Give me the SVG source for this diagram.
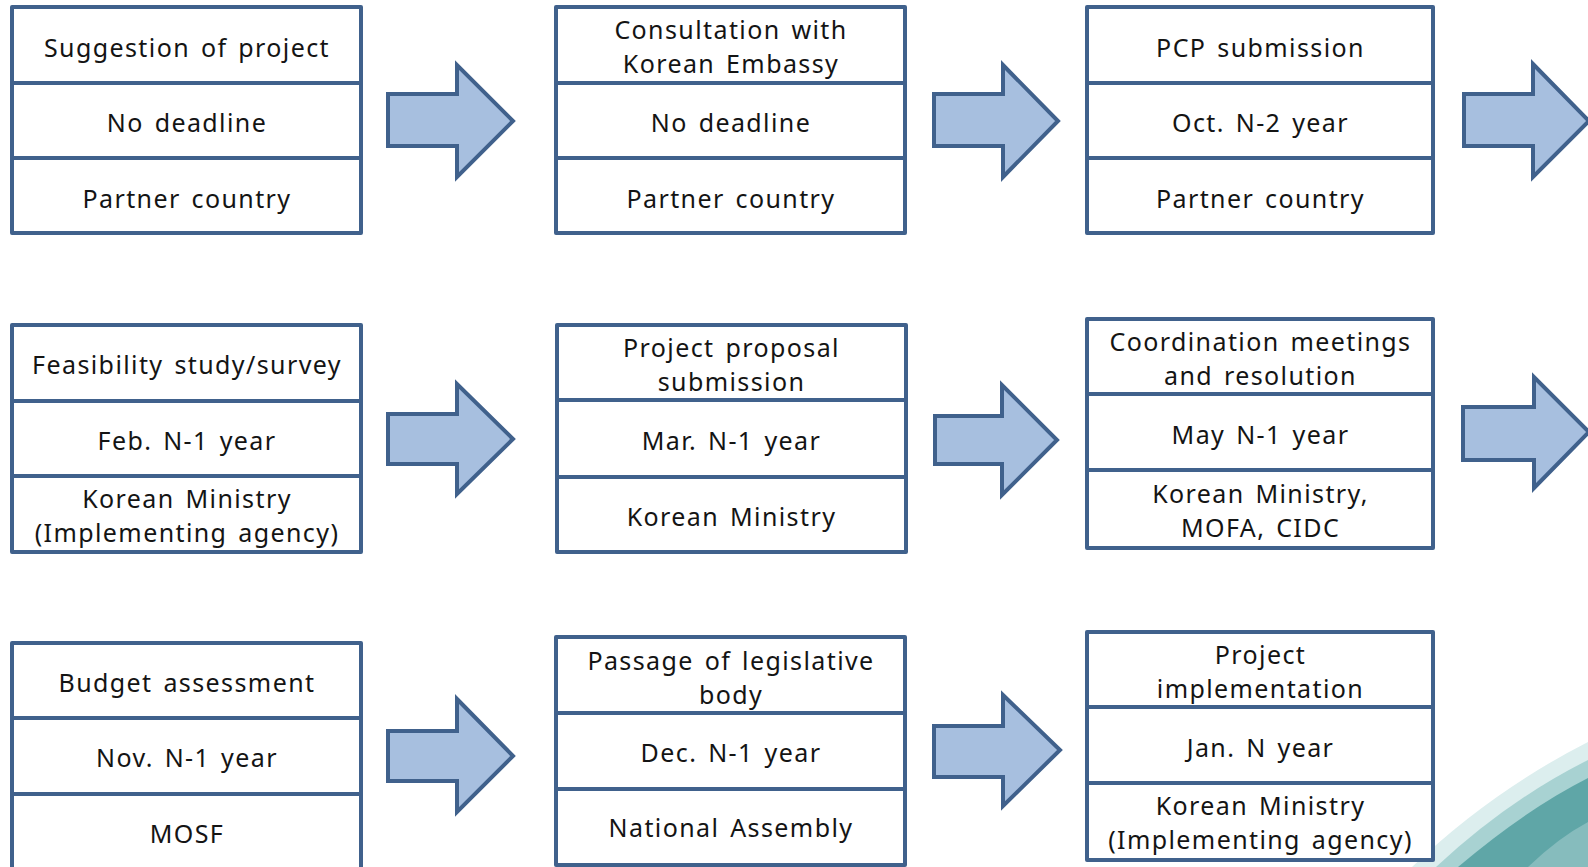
<svg xmlns="http://www.w3.org/2000/svg" width="1588" height="867" viewBox="0 0 1588 867">
<style>
.box{fill:#ffffff;stroke:#40618c;stroke-width:4;stroke-linejoin:round}
.div{stroke:#40618c;stroke-width:4}
.t{font-family:"Noto Sans","Open Sans","Liberation Sans",sans-serif;font-size:25px;fill:#141414;text-anchor:middle;letter-spacing:1.4px;word-spacing:3px}
.arr{fill:#a7bfdf;stroke:#40618c;stroke-width:4;stroke-linejoin:miter}
</style>
<rect width="1588" height="867" fill="#ffffff"/>
<g id="swoosh">
<path d="M1412,867 Q1490,792 1588,742 L1588,867 Z" fill="#dceeee"/>
<path d="M1436,867 Q1508,800 1588,760 L1588,867 Z" fill="#a8d2d2"/>
<path d="M1458,867 Q1525,810 1588,778 L1588,867 Z" fill="#5fa6a7"/>
<path d="M1528,867 Q1558,838 1588,822 L1588,867 Z" fill="#86bcbd"/>
</g>
<g id="connectors">
<polygon class="arr" points="388,94 457,94 457,65 513,121 457,177 457,146 388,146"/>
<polygon class="arr" points="934,94 1003,94 1003,65 1058,121 1003,177 1003,146 934,146"/>
<polygon class="arr" points="1464,94 1533,94 1533,64 1589,121 1533,177 1533,146 1464,146"/>
<polygon class="arr" points="388,414 457,414 457,384 513,439 457,494 457,464 388,464"/>
<polygon class="arr" points="935,416 1002,416 1002,385 1057,440 1002,495 1002,464 935,464"/>
<polygon class="arr" points="1463,407 1534,407 1534,377 1589,432 1534,488 1534,460 1463,460"/>
<polygon class="arr" points="388,731 457,731 457,699 513,756 457,812 457,781 388,781"/>
<polygon class="arr" points="934,726 1003,726 1003,695 1060,750 1003,806 1003,777 934,777"/>
</g>
<g id="n1">
<rect class="box" x="12" y="7" width="349" height="226"/>
<line class="div" x1="12" y1="83" x2="361" y2="83"/><line class="div" x1="12" y1="158" x2="361" y2="158"/>
<text class="t" x="187" y="57">Suggestion of project</text>
<text class="t" x="187" y="132">No deadline</text>
<text class="t" x="187" y="208">Partner country</text>
</g>
<g id="n2">
<rect class="box" x="556" y="7" width="349" height="226"/>
<line class="div" x1="556" y1="83" x2="905" y2="83"/><line class="div" x1="556" y1="158" x2="905" y2="158"/>
<text class="t" x="731" y="39">Consultation with</text>
<text class="t" x="731" y="73">Korean Embassy</text>
<text class="t" x="731" y="132">No deadline</text>
<text class="t" x="731" y="208">Partner country</text>
</g>
<g id="n3">
<rect class="box" x="1087" y="7" width="346" height="226"/>
<line class="div" x1="1087" y1="83" x2="1433" y2="83"/><line class="div" x1="1087" y1="158" x2="1433" y2="158"/>
<text class="t" x="1260.5" y="57">PCP submission</text>
<text class="t" x="1260.5" y="132">Oct. N-2 year</text>
<text class="t" x="1260.5" y="208">Partner country</text>
</g>
<g id="n4">
<rect class="box" x="12" y="325" width="349" height="227"/>
<line class="div" x1="12" y1="401" x2="361" y2="401"/><line class="div" x1="12" y1="476" x2="361" y2="476"/>
<text class="t" x="187" y="374">Feasibility study/survey</text>
<text class="t" x="187" y="450">Feb. N-1 year</text>
<text class="t" x="187" y="508">Korean Ministry</text>
<text class="t" x="187" y="542">(Implementing agency)</text>
</g>
<g id="n5">
<rect class="box" x="557" y="325" width="349" height="227"/>
<line class="div" x1="557" y1="400" x2="906" y2="400"/><line class="div" x1="557" y1="477" x2="906" y2="477"/>
<text class="t" x="731.5" y="357">Project proposal</text>
<text class="t" x="731.5" y="391">submission</text>
<text class="t" x="731.5" y="450">Mar. N-1 year</text>
<text class="t" x="731.5" y="526">Korean Ministry</text>
</g>
<g id="n6">
<rect class="box" x="1087" y="319" width="346" height="229"/>
<line class="div" x1="1087" y1="394" x2="1433" y2="394"/><line class="div" x1="1087" y1="470" x2="1433" y2="470"/>
<text class="t" x="1260.5" y="351">Coordination meetings</text>
<text class="t" x="1260.5" y="385">and resolution</text>
<text class="t" x="1260.5" y="444">May N-1 year</text>
<text class="t" x="1260.5" y="503">Korean Ministry,</text>
<text class="t" x="1260.5" y="537">MOFA, CIDC</text>
</g>
<g id="n7">
<rect class="box" x="12" y="643" width="349" height="230"/>
<line class="div" x1="12" y1="718" x2="361" y2="718"/><line class="div" x1="12" y1="794" x2="361" y2="794"/>
<text class="t" x="187" y="692">Budget assessment</text>
<text class="t" x="187" y="767">Nov. N-1 year</text>
<text class="t" x="187" y="843">MOSF</text>
</g>
<g id="n8">
<rect class="box" x="556" y="637" width="349" height="228"/>
<line class="div" x1="556" y1="713" x2="905" y2="713"/><line class="div" x1="556" y1="789" x2="905" y2="789"/>
<text class="t" x="731" y="670">Passage of legislative</text>
<text class="t" x="731" y="704">body</text>
<text class="t" x="731" y="762">Dec. N-1 year</text>
<text class="t" x="731" y="837">National Assembly</text>
</g>
<g id="n9">
<rect class="box" x="1087" y="632" width="346" height="228"/>
<line class="div" x1="1087" y1="707" x2="1433" y2="707"/><line class="div" x1="1087" y1="783" x2="1433" y2="783"/>
<text class="t" x="1260.5" y="664">Project</text>
<text class="t" x="1260.5" y="698">implementation</text>
<text class="t" x="1260.5" y="757">Jan. N year</text>
<text class="t" x="1260.5" y="815">Korean Ministry</text>
<text class="t" x="1260.5" y="849">(Implementing agency)</text>
</g>
</svg>
